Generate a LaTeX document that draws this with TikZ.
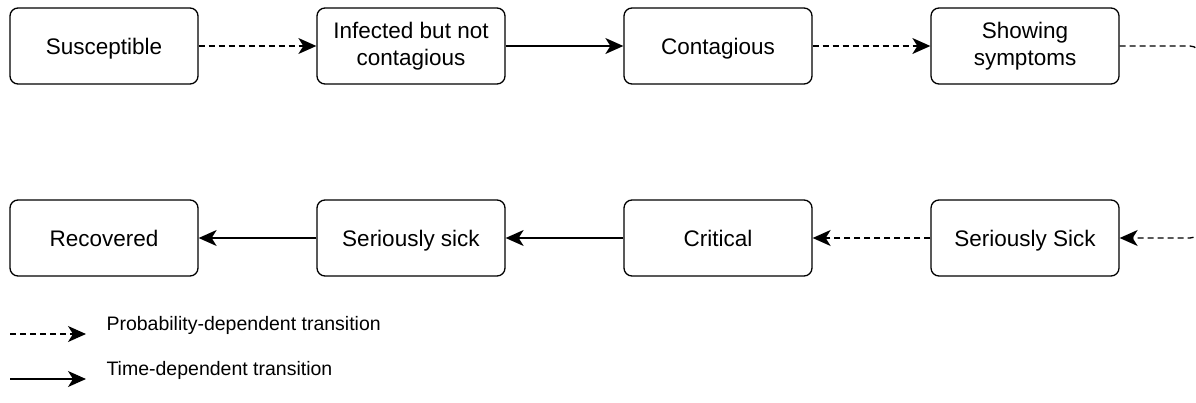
\documentclass[tikz,border=0pt]{standalone}
\usepackage{fontspec}
\setmainfont{Liberation Sans}
\usetikzlibrary{positioning, arrows.meta}
\tikzstyle{statebox} = [rectangle, rounded corners=8pt, minimum width=188pt, minimum height=76pt, text centered, align=center, draw=black, line width=1.3pt, font=\fontsize{22.5}{27}\selectfont]
\tikzstyle{oneline} = [statebox, text height=16pt, text depth=0pt]
\tikzstyle{timearrow} = [line width=1.3pt, -{Stealth[length=18pt,width=16pt,inset=5pt]}]
\tikzstyle{probarrow} = [timearrow, dash pattern=on 6pt off 4pt]
\begin{document}
\begin{tikzpicture}[x=1pt,y=-1pt,node distance=307pt,on grid,font=\fontsize{19.5}{23}\selectfont]
	\clip (0,0) rectangle (1196,402);
	\node[oneline](s_1) at (104,46){Susceptible};
	\node[statebox](s_2)[right=of s_1]{Infected but not\\contagious};
	\node[oneline](s_3)[right=of s_2]{Contagious};
	\node[statebox](s_4)[right=of s_3]{Showing\\symptoms};
	\node[oneline](s_8) at (104,238){Recovered};
	\node[oneline](s_7)[right=of s_8]{Seriously sick};
	\node[oneline](s_6)[right=of s_7]{Critical};
	\node[oneline](s_5)[right=of s_6]{Seriously Sick};
	\coordinate (turn_1) at (1200,46);
	\coordinate (turn_2) at (1200,238);
	\draw[probarrow] (s_1) -- (s_2);
	\draw[timearrow] (s_2) -- (s_3);
	\draw[probarrow] (s_3) -- (s_4);
	\draw[probarrow, rounded corners=10pt] (s_4.east) -- (turn_1) -- (turn_2) -- (s_5.east);
	\draw[probarrow] (s_5) -- (s_6);
	\draw[timearrow] (s_6) -- (s_7);
	\draw[timearrow] (s_7) -- (s_8);
	% legend
	\coordinate (key_1a) at (10,334);
	\coordinate (key_1b) at (86,334);
	\coordinate (key_2a) at (10,379);
	\coordinate (key_2b) at (86,379);
	\draw[probarrow] (key_1a) -- (key_1b);
	\draw[timearrow] (key_2a) -- (key_2b);
	\node[anchor=west](key_1) at (103,325){Probability-dependent transition};
	\node[anchor=west](key_2) at (103,370){Time-dependent transition};
\end{tikzpicture}
\end{document}
